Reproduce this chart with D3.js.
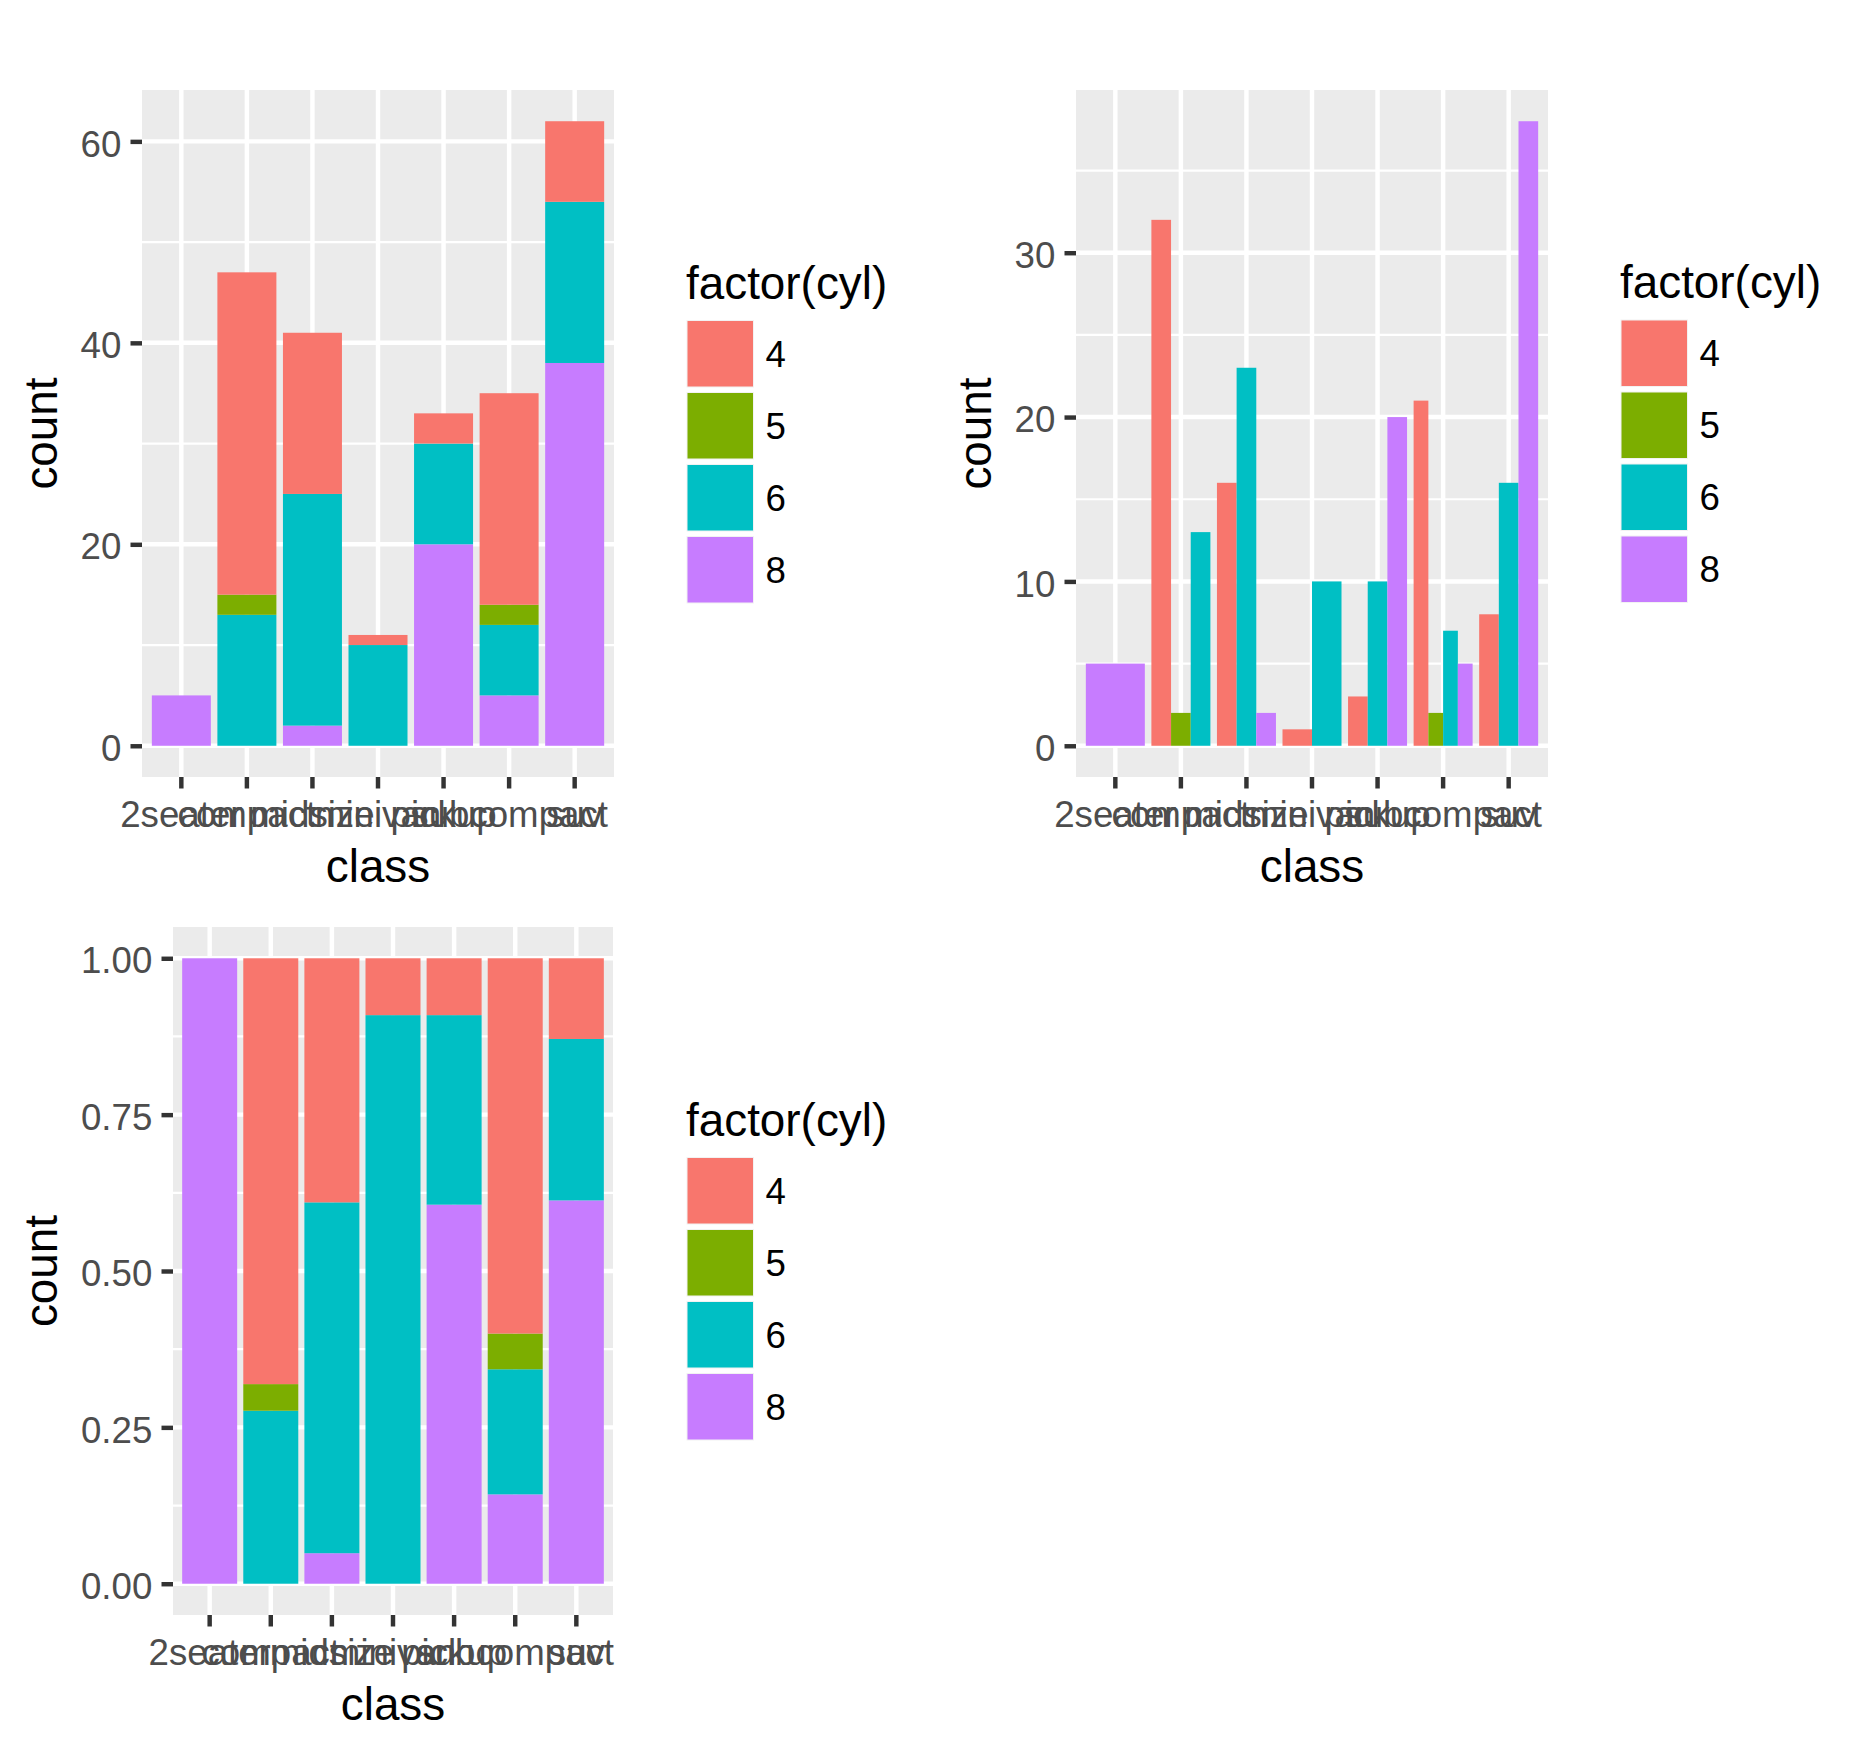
<!DOCTYPE html>
<html>
<head>
<meta charset="utf-8">
<script src="https://cdn.jsdelivr.net/npm/d3@7"></script>
<style>
  html, body { margin: 0; padding: 0; background: #ffffff; }
  svg { display: block; }
</style>
</head>
<body>
<div id="chart"></div>
<script>
// ---------------- data (mpg: class x cyl counts) ----------------
const classes = ["2seater", "compact", "midsize", "minivan", "pickup", "subcompact", "suv"];
const cylLevels = ["4", "5", "6", "8"];
const cyl4 = [0, 32, 16, 1, 3, 21, 8];
const cyl5 = [0, 2, 0, 0, 0, 2, 0];
const cyl6 = [0, 13, 23, 10, 10, 7, 16];
const cyl8 = [5, 0, 2, 0, 20, 5, 38];
const yTicksStack = [0, 20, 40, 60];
const yTicksDodge = [0, 10, 20, 30];
const yTicksFill = [0, 0.25, 0.5, 0.75, 1];
const legendTitle = "factor(cyl)";
const xTitle = "class";
const yTitle = "count";

// ---------------- styles ----------------
const fillColors = ["#F8766D", "#7CAE00", "#00BFC4", "#C77CFF"];
const FONT = "'Liberation Sans', Arial, Helvetica, sans-serif";
const W = 1868, H = 1743;
const AXIS_TEXT = 36.67, TITLE_TEXT = 45.83;
const MAJOR_W = 4.45, MINOR_W = 2.2;

const rows = classes.map((c, i) => ({
  cls: c, "4": cyl4[i], "5": cyl5[i], "6": cyl6[i], "8": cyl8[i]
}));
const colorOf = d3.scaleOrdinal().domain(cylLevels).range(fillColors);

const svg = d3.select("#chart").append("svg")
  .attr("width", W).attr("height", H)
  .style("font-family", FONT);
svg.append("rect").attr("width", W).attr("height", H).attr("fill", "#ffffff");

const panels = [
  { mode: "stack", px: [142, 614], py: [90, 777], ticks: yTicksStack, fmt: d3.format("d"),
    ylabX: 57, xlabY: 882, legX: 687, legTop: 320.5 },
  { mode: "dodge", px: [1076, 1548], py: [90, 777], ticks: yTicksDodge, fmt: d3.format("d"),
    ylabX: 991, xlabY: 882, legX: 1621, legTop: 320 },
  { mode: "fill", px: [173, 613], py: [927, 1615], ticks: yTicksFill, fmt: d3.format(".2f"),
    ylabX: 57, xlabY: 1720, legX: 687, legTop: 1157.5 }
];

function minorOf(ticks, dom) {
  const step = ticks[1] - ticks[0];
  const out = [];
  for (let v = ticks[0] - step / 2; v <= dom[1] + 1e-9; v += step) {
    if (v >= dom[0]) out.push(v);
  }
  return out;
}

panels.forEach(p => {
  // compute y extent
  let maxV;
  if (p.mode === "stack") maxV = d3.max(rows, r => cylLevels.reduce((s, k) => s + r[k], 0));
  else if (p.mode === "dodge") maxV = d3.max(rows, r => d3.max(cylLevels, k => r[k]));
  else maxV = 1;
  const ext = maxV * 0.05;
  const dom = [-ext, maxV + ext];

  const x = d3.scaleBand().domain(classes).range(p.px).paddingInner(0).paddingOuter(0.1);
  const y = d3.scaleLinear().domain(dom).range([p.py[1], p.py[0]]);

  const g = svg.append("g");
  // panel background
  g.append("rect")
    .attr("x", p.px[0]).attr("y", p.py[0])
    .attr("width", p.px[1] - p.px[0]).attr("height", p.py[1] - p.py[0])
    .attr("fill", "#EBEBEB");

  // minor grid
  g.selectAll(".ymin").data(minorOf(p.ticks, dom)).enter().append("line")
    .attr("x1", p.px[0]).attr("x2", p.px[1])
    .attr("y1", d => y(d)).attr("y2", d => y(d))
    .attr("stroke", "#ffffff").attr("stroke-width", MINOR_W);
  // major grid
  g.selectAll(".ymaj").data(p.ticks).enter().append("line")
    .attr("x1", p.px[0]).attr("x2", p.px[1])
    .attr("y1", d => y(d)).attr("y2", d => y(d))
    .attr("stroke", "#ffffff").attr("stroke-width", MAJOR_W);
  g.selectAll(".xmaj").data(classes).enter().append("line")
    .attr("x1", d => x(d) + x.bandwidth() / 2).attr("x2", d => x(d) + x.bandwidth() / 2)
    .attr("y1", p.py[0]).attr("y2", p.py[1])
    .attr("stroke", "#ffffff").attr("stroke-width", MAJOR_W);

  const bw = x.bandwidth() * 0.9;
  const barG = g.append("g");
  if (p.mode === "stack" || p.mode === "fill") {
    const stack = d3.stack().keys(["8", "6", "5", "4"]);
    if (p.mode === "fill") stack.offset(d3.stackOffsetExpand);
    const series = stack(rows);
    series.forEach(s => {
      barG.selectAll(null).data(s.filter(d => d[1] - d[0] > 0)).enter().append("rect")
        .attr("x", d => x(d.data.cls) + (x.bandwidth() - bw) / 2)
        .attr("width", bw)
        .attr("y", d => y(d[1]))
        .attr("height", d => y(d[0]) - y(d[1]))
        .attr("fill", colorOf(s.key));
    });
  } else {
    rows.forEach(r => {
      const present = cylLevels.filter(k => r[k] > 0);
      const sub = d3.scaleBand().domain(present)
        .range([x(r.cls) + (x.bandwidth() - bw) / 2, x(r.cls) + (x.bandwidth() + bw) / 2]);
      barG.selectAll(null).data(present).enter().append("rect")
        .attr("x", k => sub(k))
        .attr("width", sub.bandwidth())
        .attr("y", k => y(r[k]))
        .attr("height", k => y(0) - y(r[k]))
        .attr("fill", k => colorOf(k));
    });
  }

  // y axis
  const ya = g.append("g").attr("transform", `translate(${p.px[0]},0)`)
    .call(d3.axisLeft(y).tickValues(p.ticks).tickFormat(p.fmt).tickSize(11.5).tickPadding(9.2));
  ya.select(".domain").remove();
  ya.selectAll("line").attr("stroke", "#333333").attr("stroke-width", MAJOR_W);
  ya.selectAll("text").attr("fill", "#4D4D4D").attr("dy", "0.40em")
    .style("font-size", AXIS_TEXT + "px").style("font-family", FONT);

  // x axis
  const xa = g.append("g").attr("transform", `translate(0,${p.py[1]})`)
    .call(d3.axisBottom(x).tickSize(11.5).tickPadding(12.5));
  xa.select(".domain").remove();
  xa.selectAll("line").attr("stroke", "#333333").attr("stroke-width", MAJOR_W);
  xa.selectAll("text").attr("fill", "#4D4D4D")
    .style("font-size", AXIS_TEXT + "px").style("font-family", FONT);

  // axis titles
  g.append("text")
    .attr("x", (p.px[0] + p.px[1]) / 2).attr("y", p.xlabY)
    .attr("text-anchor", "middle").attr("fill", "#000000")
    .style("font-size", TITLE_TEXT + "px").text(xTitle);
  g.append("text")
    .attr("transform", `translate(${p.ylabX},${(p.py[0] + p.py[1]) / 2}) rotate(-90)`)
    .attr("text-anchor", "middle").attr("fill", "#000000")
    .style("font-size", TITLE_TEXT + "px").text(yTitle);

  // legend
  const lg = g.append("g");
  lg.append("text").attr("x", p.legX - 1).attr("y", p.legTop - 22)
    .attr("fill", "#000000").style("font-size", TITLE_TEXT + "px").text(legendTitle);
  cylLevels.forEach((k, i) => {
    const top = p.legTop + i * 72;
    lg.append("rect").attr("x", p.legX - 2.75).attr("y", top - 2.75)
      .attr("width", 72).attr("height", 72).attr("fill", "#ffffff");
    lg.append("rect").attr("x", p.legX).attr("y", top)
      .attr("width", 66.5).attr("height", 66.5)
      .attr("fill", colorOf(k)).attr("stroke", "#F2F2F2").attr("stroke-width", 1);
    lg.append("text").attr("x", p.legX + 66.5 + 12).attr("y", top + 33.25 + 13.2)
      .attr("fill", "#000000").style("font-size", AXIS_TEXT + "px").text(k);
  });
});
</script>
</body>
</html>
